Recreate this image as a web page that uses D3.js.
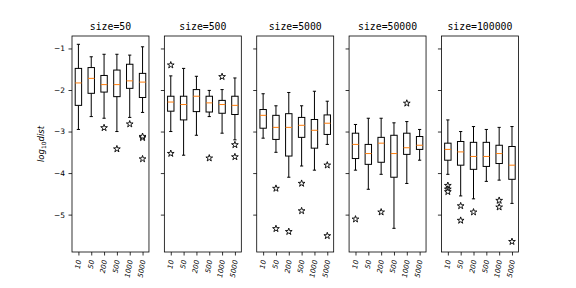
<!DOCTYPE html>
<html>
<head>
<meta charset="utf-8">
<script src="https://cdn.jsdelivr.net/npm/d3@7"></script>
<style>
  body { margin: 0; background: #fff; }
  svg { display: block; }
</style>
</head>
<body>
<div id="graph"></div>
<script>
// one panel per size, one box per trial count
const sizes = ["size=50", "size=500", "size=5000", "size=50000", "size=100000"];
const trials = ["10", "50", "200", "500", "1000", "5000"];
const yTicks = [-1, -2, -3, -4, -5];

const whiskerTop = [
  [-0.90, -1.20, -1.14, -1.14, -1.16, -0.96],
  [-1.66, -1.48, -1.67, -2.01, -1.99, -1.71],
  [-2.09, -2.38, -2.06, -2.38, -2.03, -2.27],
  [-2.83, -2.68, -2.68, -2.79, -2.76, -2.95],
  [-2.72, -3.00, -2.88, -2.95, -2.90, -2.88]
];
const q3 = [
  [-1.48, -1.46, -1.65, -1.52, -1.38, -1.60],
  [-2.15, -2.15, -1.99, -2.15, -2.25, -2.15],
  [-2.47, -2.61, -2.57, -2.66, -2.71, -2.60],
  [-3.04, -3.31, -3.14, -3.09, -3.04, -3.12],
  [-3.28, -3.24, -3.26, -3.26, -3.33, -3.36]
];
const medians = [
  [-1.83, -1.72, -1.87, -1.87, -1.78, -1.81],
  [-2.29, -2.35, -2.15, -2.31, -2.35, -2.37],
  [-2.61, -2.90, -2.90, -2.85, -2.97, -2.80],
  [-3.31, -3.53, -3.28, -3.53, -3.39, -3.33],
  [-3.43, -3.49, -3.60, -3.60, -3.53, -3.81]
];
const q1 = [
  [-2.37, -2.08, -2.05, -2.16, -1.96, -2.18],
  [-2.51, -2.72, -2.52, -2.53, -2.56, -2.59],
  [-2.92, -3.19, -3.59, -3.14, -3.40, -3.07],
  [-3.65, -3.79, -3.74, -4.10, -3.55, -3.43],
  [-3.69, -3.81, -3.91, -3.84, -3.77, -4.15]
];
const whiskerBottom = [
  [-2.95, -2.64, -2.68, -3.00, -2.66, -2.54],
  [-3.00, -3.57, -3.09, -2.64, -3.04, -3.20],
  [-3.16, -3.50, -4.10, -3.83, -3.93, -3.31],
  [-3.93, -4.39, -4.03, -5.33, -4.25, -3.69],
  [-4.03, -4.55, -4.62, -4.20, -4.17, -4.73]
];
const outliers = [
  [[], [], [-2.91], [-3.42], [-2.82], [-3.15, -3.12, -3.66]],
  [[-1.40, -3.53], [], [], [-3.64], [-1.68], [-3.32, -3.61]],
  [[], [-4.37, -5.34], [-5.41], [-4.25, -4.91], [], [-3.81, -5.51]],
  [[-5.11], [], [-4.94], [], [-2.32], []],
  [[-4.30, -4.39, -4.45], [-4.79, -5.14], [-4.94], [], [-4.66, -4.82], [-5.65]]
];

const W = 576, H = 288;
const margin = {top: 36, right: 57.6, bottom: 36, left: 72};
const innerH = H - margin.top - margin.bottom;

const svg = d3.select("#graph")
  .append("svg")
  .attr("width", W)
  .attr("height", H);

const panelX = d3.scaleBand()
  .domain(sizes)
  .range([margin.left, W - margin.right])
  .paddingInner(0.2 / 1.2)
  .paddingOuter(0);
const pw = panelX.bandwidth();

const y = d3.scaleLinear()
  .domain([-5.9, -0.7])
  .range([margin.top + innerH, margin.top]);

const x = d3.scalePoint()
  .domain(trials)
  .range([0, pw])
  .padding(0.5);
const boxW = x.step() * 0.5;
const capW = boxW * 0.5;

const star = d3.symbol().type(d3.symbolStar).size(14);

sizes.forEach((s, p) => {
  const g = svg.append("g")
    .attr("transform", "translate(" + panelX(s) + ",0)");

  // y axis (labels only on first panel)
  const yAxis = d3.axisLeft(y).tickValues(yTicks).tickSize(3.5).tickPadding(3.5)
    .tickFormat(d => p === 0 ? String(d).replace("-", "\u2212") : "");
  const ya = g.append("g").call(yAxis);
  ya.select(".domain").remove();
  ya.selectAll("line").attr("stroke", "#000").attr("stroke-width", 0.8);
  ya.selectAll("text").attr("font-family", "DejaVu Sans").attr("font-size", 7.5).attr("fill", "#000");

  // x axis
  const xa = g.append("g")
    .attr("transform", "translate(0," + y.range()[0] + ")")
    .call(d3.axisBottom(x).tickSize(3.5).tickPadding(3.5));
  xa.select(".domain").remove();
  xa.selectAll("line").attr("stroke", "#000").attr("stroke-width", 0.8);
  xa.selectAll("text")
    .attr("font-family", "DejaVu Sans")
    .attr("font-style", "italic")
    .attr("font-size", 7)
    .attr("fill", "#000")
    .attr("text-anchor", "end")
    .attr("dy", null)
    .attr("y", 0)
    .attr("transform", "translate(0,8) rotate(-80) translate(0,2.5)");

  const boxes = g.selectAll("g.box")
    .data(trials)
    .join("g")
    .attr("class", "box")
    .attr("transform", d => "translate(" + x(d) + ",0)");

  // whiskers
  boxes.append("line")
    .attr("x1", 0).attr("x2", 0)
    .attr("y1", (d, i) => y(whiskerTop[p][i]))
    .attr("y2", (d, i) => y(q3[p][i]))
    .attr("stroke", "#000");
  boxes.append("line")
    .attr("x1", 0).attr("x2", 0)
    .attr("y1", (d, i) => y(q1[p][i]))
    .attr("y2", (d, i) => y(whiskerBottom[p][i]))
    .attr("stroke", "#000");
  // caps
  boxes.append("line")
    .attr("x1", -capW / 2).attr("x2", capW / 2)
    .attr("y1", (d, i) => y(whiskerTop[p][i]))
    .attr("y2", (d, i) => y(whiskerTop[p][i]))
    .attr("stroke", "#000");
  boxes.append("line")
    .attr("x1", -capW / 2).attr("x2", capW / 2)
    .attr("y1", (d, i) => y(whiskerBottom[p][i]))
    .attr("y2", (d, i) => y(whiskerBottom[p][i]))
    .attr("stroke", "#000");
  // box
  boxes.append("rect")
    .attr("x", -boxW / 2)
    .attr("width", boxW)
    .attr("y", (d, i) => y(q3[p][i]))
    .attr("height", (d, i) => y(q1[p][i]) - y(q3[p][i]))
    .attr("fill", "none")
    .attr("stroke", "#000");
  // median
  boxes.append("line")
    .attr("x1", -boxW / 2).attr("x2", boxW / 2)
    .attr("y1", (d, i) => y(medians[p][i]))
    .attr("y2", (d, i) => y(medians[p][i]))
    .attr("stroke", "#ff7f0e");
  // fliers
  boxes.selectAll("path.flier")
    .data((d, i) => outliers[p][i])
    .join("path")
    .attr("class", "flier")
    .attr("d", star)
    .attr("transform", v => "translate(0," + y(v) + ")")
    .attr("fill", "#fff")
    .attr("stroke", "#000")
    .attr("stroke-width", 0.9);

  // frame
  g.append("rect")
    .attr("x", 0).attr("y", margin.top)
    .attr("width", pw).attr("height", innerH)
    .attr("fill", "none")
    .attr("stroke", "#000")
    .attr("stroke-width", 0.8);

  g.append("text")
    .attr("x", pw / 2)
    .attr("y", margin.top - 6)
    .attr("text-anchor", "middle")
    .attr("font-family", "DejaVu Sans Mono")
    .attr("font-size", 9.8)
    .attr("fill", "#000")
    .text(s);
});

// y label: log10 dist
const yl = svg.append("text")
  .attr("transform", "translate(44," + (margin.top + innerH / 2) + ") rotate(-90)")
  .attr("text-anchor", "middle")
  .attr("font-family", "DejaVu Sans")
  .attr("font-style", "italic")
  .attr("font-size", 8.5)
  .attr("fill", "#000");
yl.append("tspan").text("log");
yl.append("tspan").attr("font-style", "normal").attr("font-size", 6).attr("dy", 2).text("10");
yl.append("tspan").attr("dy", -2).text("dist");
</script>
</body>
</html>
